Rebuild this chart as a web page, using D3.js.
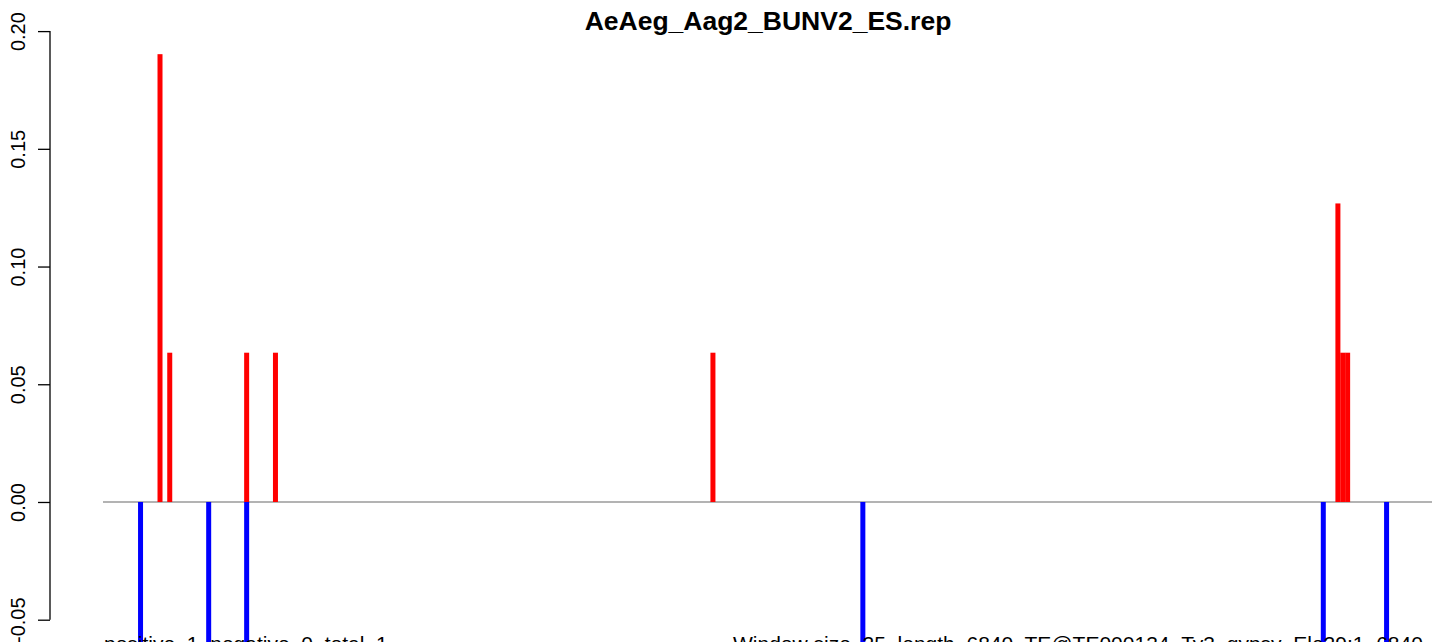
<!DOCTYPE html>
<html>
<head>
<meta charset="utf-8">
<script src="https://cdn.jsdelivr.net/npm/d3@7"></script>
<style>
  html, body { margin: 0; padding: 0; background: #ffffff; }
  svg { display: block; font-family: "Liberation Sans", Arial, Helvetica, sans-serif; }
</style>
</head>
<body>
<svg id="chart" width="1444" height="642"></svg>
<script>
// ---- data ----
const chartTitle = "AeAeg_Aag2_BUNV2_ES.rep";
const seqLength = 6840;
const positivePositions = [300, 350, 745, 893, 3140, 6350, 6375, 6400];
const positiveValues    = [0.1902, 0.0634, 0.0634, 0.0634, 0.0634, 0.1268, 0.0634, 0.0634];
const negativePositions = [200, 550, 745, 3910, 6275, 6600];
const negativeValues    = [-0.0634, -0.0634, -0.0634, -0.0634, -0.0634, -0.0634];
const yTickValues = [-0.05, 0, 0.05, 0.10, 0.15, 0.20];
const yTickLabels = ["-0.05", "0.00", "0.05", "0.10", "0.15", "0.20"];
const leftNote  = "positive  1  negative  0  total  1";
const rightNote = "Window size  25  length  6840  TE@TE000134_Ty3_gypsy_Ele29:1..6840";

// ---- layout ----
const svg = d3.select("#chart");
svg.append("rect").attr("width", 1444).attr("height", 642).attr("fill", "#ffffff");

const x = d3.scaleLinear().domain([0, seqLength]).range([101.6, 1433.3]);
const y = d3.scaleLinear().domain([-0.05, 0.20]).range([619.7, 31.1]);
const axisX = 50;
const barW = 5;

// zero line
svg.append("line")
  .attr("x1", x(0) + 1.4).attr("x2", x(seqLength) - 1.3)
  .attr("y1", y(0)).attr("y2", y(0))
  .attr("stroke", "#9a9a9a").attr("stroke-width", 1.3);

// bars
const pos = positivePositions.map((p, i) => ({p, v: positiveValues[i]}));
const neg = negativePositions.map((p, i) => ({p, v: negativeValues[i]}));

svg.append("g").selectAll("rect").data(pos).join("rect")
  .attr("x", d => x(d.p) - barW / 2)
  .attr("width", barW)
  .attr("y", d => y(d.v))
  .attr("height", d => y(0) - y(d.v))
  .attr("fill", "#ff0000");

svg.append("g").selectAll("rect").data(neg).join("rect")
  .attr("x", d => x(d.p) - barW / 2)
  .attr("width", barW)
  .attr("y", y(0))
  .attr("height", d => y(d.v) - y(0))
  .attr("fill", "#0000ff");

// y axis
const yAxis = d3.axisLeft(y)
  .tickValues(yTickValues)
  .tickFormat((d, i) => yTickLabels[i])
  .tickSize(12)
  .tickPadding(0)
  .tickSizeOuter(0);

const gAxis = svg.append("g").attr("transform", `translate(${axisX},0)`).call(yAxis);
gAxis.select(".domain").attr("stroke", "#000").attr("stroke-width", 1.3)
  .attr("d", `M0,${y(0.20)}V${y(-0.05)}`);
gAxis.selectAll(".tick line").attr("stroke", "#000").attr("stroke-width", 1.3);
gAxis.selectAll(".tick text")
  .attr("font-size", 20)
  .attr("fill", "#000")
  .attr("text-anchor", "middle")
  .attr("dy", 0)
  .attr("x", 0)
  .attr("transform", "translate(-25,0) rotate(-90)")
  .attr("y", 0);

// title
svg.append("text")
  .attr("x", 768).attr("y", 29.5)
  .attr("text-anchor", "middle")
  .attr("font-size", 26.5)
  .attr("font-weight", "bold")
  .attr("fill", "#000")
  .text(chartTitle);

// bottom notes (partly below the picture's edge, as in the reference)
svg.append("text")
  .attr("x", 104).attr("y", 651)
  .attr("font-size", 21)
  .attr("fill", "#000")
  .style("white-space", "pre")
  .text(leftNote);

svg.append("text")
  .attr("x", 733).attr("y", 651)
  .attr("font-size", 21)
  .attr("fill", "#000")
  .style("white-space", "pre")
  .text(rightNote);
</script>
</body>
</html>
